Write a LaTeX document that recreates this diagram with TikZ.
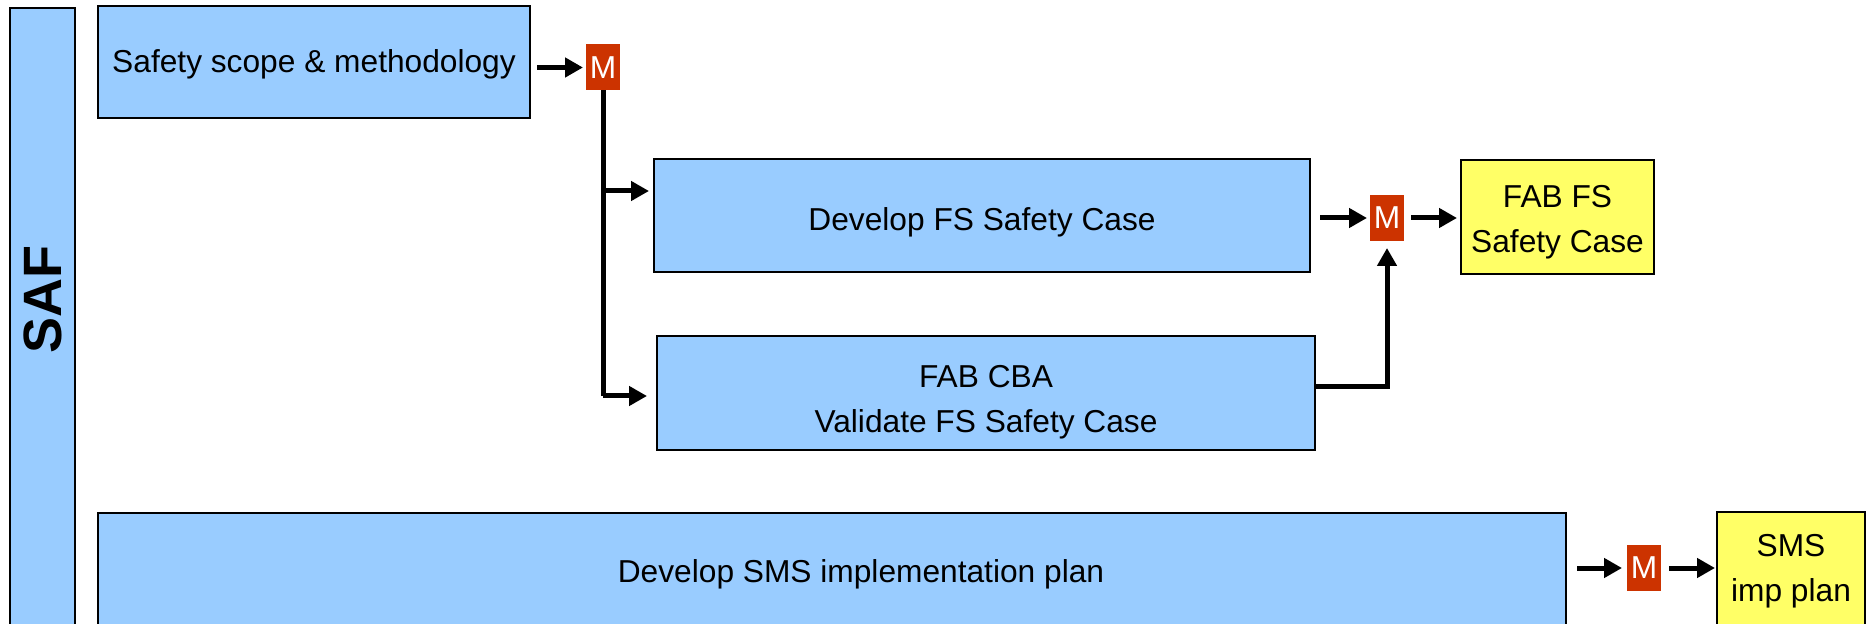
\documentclass[tikz,border=0pt]{standalone}
\usepackage{fontspec}
\setmainfont{Liberation Sans}
\usetikzlibrary{arrows.meta}
\definecolor{boxblue}{HTML}{99CCFF}
\definecolor{boxyellow}{HTML}{FFFF66}
\definecolor{mred}{HTML}{CC3300}
\begin{document}
\begin{tikzpicture}[x=0.5pt,y=-0.5pt,
  every node/.style={inner sep=0pt, outer sep=0pt},
  bluebox/.style={draw=black, line width=1pt, fill=boxblue, rectangle},
  yellowbox/.style={bluebox, fill=boxyellow},
  txt/.style={font=\fontsize{15.85}{22.5}\selectfont, align=center},
  mbox/.style={fill=mred, text=white, minimum width=17pt, minimum height=23pt,
    font=\fontsize{15.85}{19}\selectfont},
  conn/.style={line width=2.5pt},
  arr/.style={conn, -{Triangle[length=9pt,width=9.5pt]}}]
\fill[white] (0,0) rectangle (1867,624);
\useasboundingbox (0,0) rectangle (1867,624);
% SAF bar
\node[bluebox, minimum width=32.5pt, minimum height=315pt] (saf) at (42.5,323) {};
\node[font=\fontsize{27}{30}\selectfont\bfseries, rotate=90] (saftext) at (43,300) {SAF};
% boxes
\node[bluebox, minimum width=216pt, minimum height=56pt] (scope) at (314,62) {};
\node[txt, yshift=-1.2pt] (scopet) at (scope) {Safety scope \& methodology};
\node[mbox] (m1) at (603,67.5) {M};
\node[bluebox, minimum width=328pt, minimum height=56.5pt] (dev) at (982,215.5) {};
\node[txt, yshift=-3.5pt] (devt) at (dev) {Develop FS Safety Case};
\node[bluebox, minimum width=329pt, minimum height=57pt] (cba) at (986,393) {};
\node[txt, yshift=-4.5pt] (cbat) at (cba) {FAB CBA\\Validate FS Safety Case};
\node[mbox] (m2) at (1387,218) {M};
\node[yellowbox, minimum width=96.5pt, minimum height=57pt] (fabfs) at (1557.5,217) {};
\node[txt, yshift=-2.8pt] (fabfst) at (fabfs) {FAB FS\\Safety Case};
\node[bluebox, minimum width=734pt, minimum height=59pt] (sms) at (832,572) {};
\node[txt, yshift=-1pt] (smst) at (861,572) {Develop SMS implementation plan};
\node[mbox] (m3) at (1644,568) {M};
\node[yellowbox, minimum width=74pt, minimum height=59pt] (smsimp) at (1791,571) {};
\node[txt] (smsimpt) at (smsimp) {SMS\\imp plan};
% junctions
\coordinate (j1) at (603,191);
\coordinate (j2) at (603,396);
% connectors
\draw[arr, shorten <=3.5pt, shorten >=1.5pt] (scope.east |- m1.west) -- (m1.west);
\draw[conn] (m1.south) -- (j2);
\draw[arr, shorten >=2.5pt] (j1) -- (j1 -| dev.west);
\draw[arr, shorten >=5pt] (j2) -- (j2 -| cba.west);
\draw[arr, shorten <=5pt, shorten >=1.5pt] (dev.east |- m2.west) -- (m2.west);
\draw[arr, shorten <=3.5pt, shorten >=2pt] (m2.east) -- (m2.east -| fabfs.west);
\draw[arr, shorten >=3.5pt] ([yshift=3pt]cba.east) -| (m2.south);
\draw[arr, shorten <=5.5pt, shorten >=2.5pt] (sms.east |- m3.west) -- (m3.west);
\draw[arr, shorten <=4pt, shorten >=1pt] (m3.east) -- (m3.east -| smsimp.west);
\end{tikzpicture}
\end{document}
